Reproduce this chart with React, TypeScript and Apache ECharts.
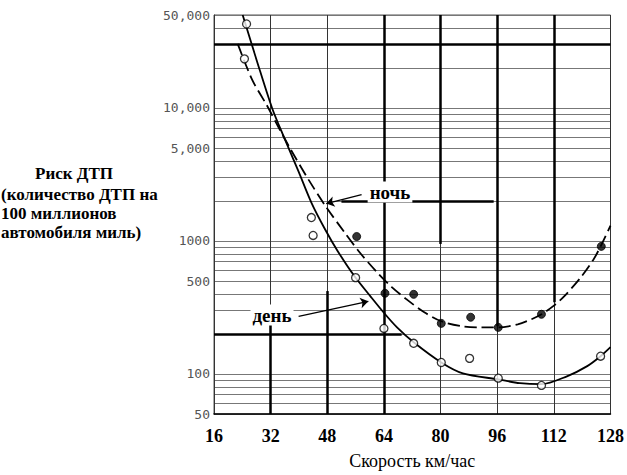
import React, { useEffect, useRef } from "react";
import * as echarts from "echarts";

// Speed axis (km/h)
const xTicks = [16, 32, 48, 64, 80, 96, 112, 128];
// Risk axis (log scale): labelled values and their texts
const yLabelValues = [50, 100, 500, 1000, 5000, 10000, 50000];
const yLabelTexts = ["50", "100", "500", "1000", "5,000", "10,000", "50,000"];
// Horizontal ruling of the log paper
const yGridValues = [
  50, 60, 70, 80, 90, 100, 200, 300, 400, 500, 600, 700, 800, 900, 1000, 2000,
  3000, 4000, 5000, 6000, 7000, 8000, 9000, 10000, 20000, 30000, 40000, 50000,
];

// Day curve (solid)
const dayCurve: [number, number][] = [
  [24.1, 50000], [28.2, 22200], [32.4, 10000], [35.7, 6080], [39.9, 3320],
  [43.5, 1945], [47.4, 1220], [51, 834], [55.7, 542], [60.2, 383],
  [64.1, 286], [67.7, 224], [72.4, 173], [80.2, 122], [86.3, 101],
  [96.3, 91], [102.4, 85.3], [108.5, 83.8], [115.7, 96], [121.3, 114],
  [125.2, 136], [128, 159],
];
// Night curve (dashed)
const nightCurve: [number, number][] = [
  [22.7, 30300], [26.8, 16270], [31, 10380], [34.3, 7100], [37.7, 4855],
  [42.7, 2892], [47.4, 1845], [52.9, 1158], [57.4, 805], [62.1, 580],
  [66.3, 448], [70.4, 364], [75.4, 291], [80.2, 249], [86.3, 228],
  [91.3, 224], [96.3, 224], [101.8, 236], [105.7, 258], [108.5, 281],
  [112.1, 328], [114.9, 383], [119.6, 532], [123.2, 726], [125.2, 910],
  [128, 1306],
];
// Observations
const dayPoints: [number, number][] = [
  [25.2, 42800], [43.5, 1500], [44, 1100], [56, 530], [64, 220], [72.4, 170],
  [80.2, 122], [88.2, 131], [96.3, 93], [108.5, 82], [125.2, 136],
];
const nightPoints: [number, number][] = [
  [56.3, 1080], [64.3, 404], [72.4, 397], [80.2, 240], [88.5, 267],
  [96.3, 224], [108.5, 281], [125.4, 910],
];
const nightHollowPoints: [number, number][] = [[24.6, 23400]];

// Heavy rules of the printed paper: [x1, y1, x2, y2]
const heavyRules: [number, number, number, number][] = [
  [16, 30000, 128, 30000],
  [16, 200, 69, 200],
  [52, 2000, 95, 2000],
  [32, 50, 32, 250],
  [48, 50, 48, 420],
  [64, 50, 64, 50000],
  [80, 950, 80, 50000],
  [96, 228, 96, 50000],
  [112, 346, 112, 50000],
];
// Label arrows: [x1, y1, x2, y2]
const labelArrows: [number, number, number, number][] = [
  [57.7, 2234, 47.7, 1910],
  [39.9, 271, 59.6, 352],
];

const L = (v: number) => Math.log10(v);
const toLog = (arr: [number, number][]) => arr.map(([x, y]) => [x, L(y)]);

const serif = '"Liberation Serif", "Times New Roman", serif';

export default function App() {
  const ref = useRef<HTMLDivElement>(null);
  useEffect(() => {
    const chart = echarts.init(ref.current!, null, { renderer: "svg" });
    const option: any = {
      animation: false,
      backgroundColor: "#fff",
      grid: {
        left: 214, right: 10, top: 15, bottom: 60,
        show: true, borderColor: "#555", borderWidth: 1,
      },
      xAxis: {
        type: "value",
        min: xTicks[0],
        max: xTicks[xTicks.length - 1],
        interval: 16,
        axisLine: { show: true, lineStyle: { color: "#000", width: 1.5 } },
        axisTick: { show: false },
        axisLabel: { fontFamily: serif, fontSize: 18, fontWeight: "bold", color: "#000", margin: 13 },
        splitLine: { show: true, lineStyle: { color: "#333", width: 1 } },
        name: "Скорость км/час",
        nameLocation: "middle",
        nameGap: 38,
        nameTextStyle: { fontFamily: serif, fontSize: 18, color: "#000" },
      },
      yAxis: {
        type: "value",
        min: L(50),
        max: L(50000),
        axisLine: { show: true, lineStyle: { color: "#333", width: 1 } },
        axisTick: { show: false, customValues: yGridValues.map(L) },
        axisLabel: {
          customValues: yLabelValues.map(L),
          formatter: (v: number) => {
            let best = 0;
            yLabelValues.forEach((y, i) => {
              if (Math.abs(L(y) - v) < Math.abs(L(yLabelValues[best]) - v)) best = i;
            });
            return yLabelTexts[best];
          },
          fontFamily: '"DejaVu Sans Mono", monospace',
          fontSize: 13,
          color: "#555",
          margin: 4,
        },
        splitLine: { show: true, lineStyle: { color: "#777", width: 1 } },
      },
      series: [
        {
          type: "line",
          name: "день",
          data: toLog(dayCurve),
          smooth: 0.3,
          showSymbol: false,
          lineStyle: { color: "#000", width: 1.8 },
          z: 3,
          markLine: {
            silent: true,
            symbol: "none",
            label: { show: false },
            lineStyle: { color: "#000", width: 2.5, type: "solid" },
            data: heavyRules.map(([x1, y1, x2, y2]) => [
              { coord: [x1, L(y1)] },
              { coord: [x2, L(y2)] },
            ]),
          },
        },
        {
          type: "line",
          name: "ночь",
          data: toLog(nightCurve),
          smooth: 0.3,
          showSymbol: false,
          lineStyle: { color: "#000", width: 1.8, type: [12, 5] },
          z: 3,
          markLine: {
            silent: true,
            symbol: ["none", "arrow"],
            symbolSize: 8,
            label: { show: false },
            lineStyle: { color: "#000", width: 1.3, type: "solid" },
            data: labelArrows.map(([x1, y1, x2, y2]) => [
              { coord: [x1, L(y1)] },
              { coord: [x2, L(y2)] },
            ]),
          },
        },
        {
          type: "scatter",
          name: "день (наблюдения)",
          data: toLog(dayPoints),
          symbol: "circle",
          symbolSize: 8,
          itemStyle: { color: "#fff", borderColor: "#000", borderWidth: 1.3 },
          z: 5,
        },
        {
          type: "scatter",
          name: "ночь (наблюдения)",
          data: toLog(nightPoints),
          symbol: "circle",
          symbolSize: 8,
          itemStyle: { color: "#000", borderColor: "#000", borderWidth: 1 },
          z: 5,
        },
        {
          type: "scatter",
          name: "ночь (наблюдения, полые)",
          data: toLog(nightHollowPoints),
          symbol: "circle",
          symbolSize: 8,
          itemStyle: { color: "#fff", borderColor: "#000", borderWidth: 1.3 },
          z: 5,
        },
      ],
      graphic: [
        {
          type: "text",
          left: 35,
          top: 165,
          z: 100,
          style: { text: "Риск ДТП", font: `bold 17px ${serif}`, fill: "#000" },
        },
        {
          type: "text",
          left: 1,
          top: 185,
          z: 100,
          style: {
            text: "(количество ДТП на\n100 миллионов\nавтомобиля миль)",
            font: `bold 17px ${serif}`,
            lineHeight: 19,
            fill: "#000",
          },
        },
        {
          type: "text",
          x: 390,
          y: 192,
          z: 100,
          style: {
            text: "ночь",
            font: `bold 19px ${serif}`,
            fill: "#000",
            align: "center",
            verticalAlign: "middle",
            backgroundColor: "#fff",
            padding: [1, 2],
          },
        },
        {
          type: "text",
          x: 272,
          y: 315,
          z: 100,
          style: {
            text: "день",
            font: `bold 19px ${serif}`,
            fill: "#000",
            align: "center",
            verticalAlign: "middle",
            backgroundColor: "#fff",
            padding: [1, 2],
          },
        },
      ],
    };
    chart.setOption(option);
    return () => chart.dispose();
  }, []);
  return (
    <div
      ref={ref}
      style={{ position: "fixed", left: 0, top: 0, width: 627, height: 475, background: "#fff" }}
    />
  );
}
